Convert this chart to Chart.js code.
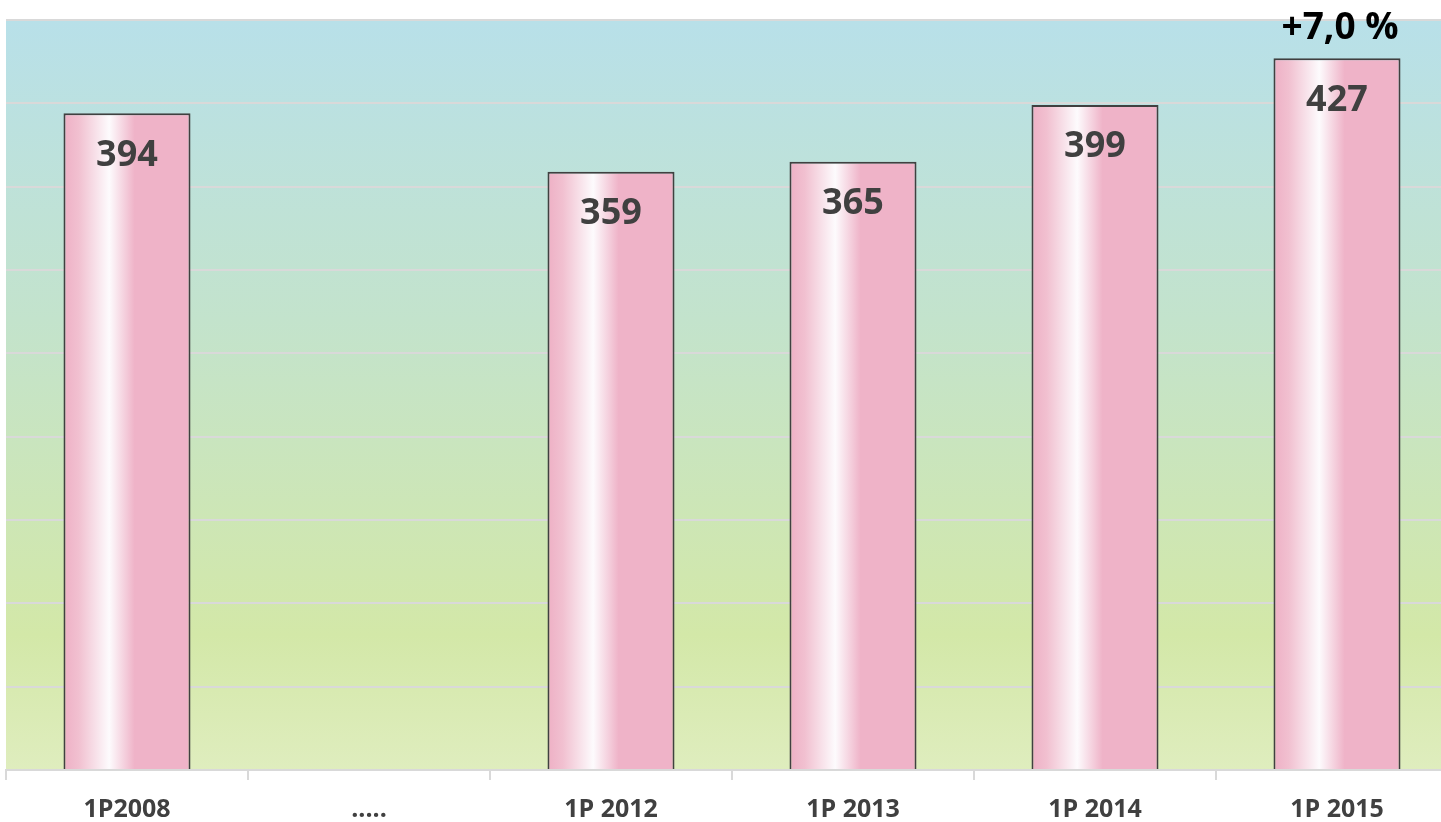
<!DOCTYPE html>
<html>
<head>
<meta charset="utf-8">
<script src="https://cdn.jsdelivr.net/npm/chart.js@4/dist/chart.umd.min.js"></script>
<style>
  html, body { margin: 0; padding: 0; background: #ffffff; overflow: hidden; }
  #wrap { position: relative; width: 1460px; height: 822px; }
</style>
</head>
<body>
<div id="wrap"><canvas id="c"></canvas></div>
<script>
const categories = ['1P2008', '.....', '1P 2012', '1P 2013', '1P 2014', '1P 2015'];
const values = [394, null, 359, 365, 399, 427];
const valueLabels = ['394', '', '359', '365', '399', '427'];
const growthLabel = '+7,0 %';
const growthIndex = 5;

const FONT = "'Open Sans', 'DejaVu Sans', sans-serif";
const BAR_PCT = 0.525;

const bgPlugin = {
  id: 'bg',
  beforeDraw(chart) {
    const { ctx, chartArea: a } = chart;
    const g = ctx.createLinearGradient(0, a.top, 0, a.bottom);
    g.addColorStop(0, '#b8e0e9');
    g.addColorStop(0.4, '#c3e3cc');
    g.addColorStop(0.82, '#d3e8a8');
    g.addColorStop(1, '#dfedbe');
    ctx.save();
    ctx.fillStyle = g;
    ctx.fillRect(a.left, a.top, a.right - a.left, a.bottom - a.top);
    ctx.restore();
  }
};

const labelPlugin = {
  id: 'vlabels',
  afterDatasetsDraw(chart) {
    const { ctx } = chart;
    const meta = chart.getDatasetMeta(0);
    ctx.save();
    ctx.textAlign = 'center';
    ctx.textBaseline = 'middle';
    meta.data.forEach((bar, i) => {
      if (values[i] == null) return;
      ctx.font = "bold 36px " + FONT;
      ctx.fillStyle = '#404040';
      ctx.fillText(valueLabels[i], bar.x, bar.y + 42);
      if (i === growthIndex) {
        ctx.font = "bold 37px " + FONT;
        ctx.fillStyle = '#000000';
        ctx.fillText(growthLabel, bar.x + 3, bar.y - 30);
      }
    });
    ctx.restore();
  }
};

function barFill(c) {
  const chart = c.chart;
  const xs = chart.scales && chart.scales.x;
  if (!xs || !chart.chartArea) return '#efb3c8';
  const cx = xs.getPixelForValue(c.dataIndex);
  const catW = (xs.right - xs.left) / categories.length;
  const w = catW * BAR_PCT;
  const x0 = cx - w / 2;
  if (!isFinite(x0) || !isFinite(w) || w <= 0) return '#efb3c8';
  const g = chart.ctx.createLinearGradient(x0, 0, x0 + w, 0);
  g.addColorStop(0, '#eeb0c5');
  g.addColorStop(0.12, '#f1c0d0');
  g.addColorStop(0.36, '#fdfbfd');
  g.addColorStop(0.56, '#efb3c8');
  g.addColorStop(1, '#efb3c8');
  return g;
}

const ctx = document.getElementById('c').getContext('2d');
new Chart(ctx, {
  type: 'bar',
  data: {
    labels: categories,
    datasets: [{
      data: values,
      backgroundColor: barFill,
      borderColor: '#404040',
      borderWidth: 2,
      borderSkipped: 'start',
      barPercentage: BAR_PCT,
      categoryPercentage: 1.0
    }]
  },
  options: {
    responsive: true,
    maintainAspectRatio: false,
    animation: false,
    events: [],
    layout: { padding: { left: 6, right: 2, top: 20, bottom: 0 } },
    plugins: {
      legend: { display: false },
      tooltip: { enabled: false },
      title: { display: false }
    },
    scales: {
      x: {
        offset: true,
        grid: {
          display: true,
          drawOnChartArea: false,
          drawTicks: true,
          tickLength: 10,
          color: '#d9d9d9',
          lineWidth: 2
        },
        border: { display: true, color: '#d9d9d9', width: 2 },
        ticks: {
          color: '#404040',
          font: { family: FONT, size: 25, weight: 'bold' },
          padding: 15,
          maxRotation: 0,
          autoSkip: false
        },
        afterFit(s) { s.height = 52; }
      },
      y: {
        min: 0,
        max: 450,
        ticks: { display: false, stepSize: 50 },
        grid: { color: '#d9d9d9', lineWidth: 2, drawTicks: false },
        border: { display: false },
        afterFit(s) { s.width = 0; }
      }
    }
  },
  plugins: [bgPlugin, labelPlugin]
});
</script>
</body>
</html>
